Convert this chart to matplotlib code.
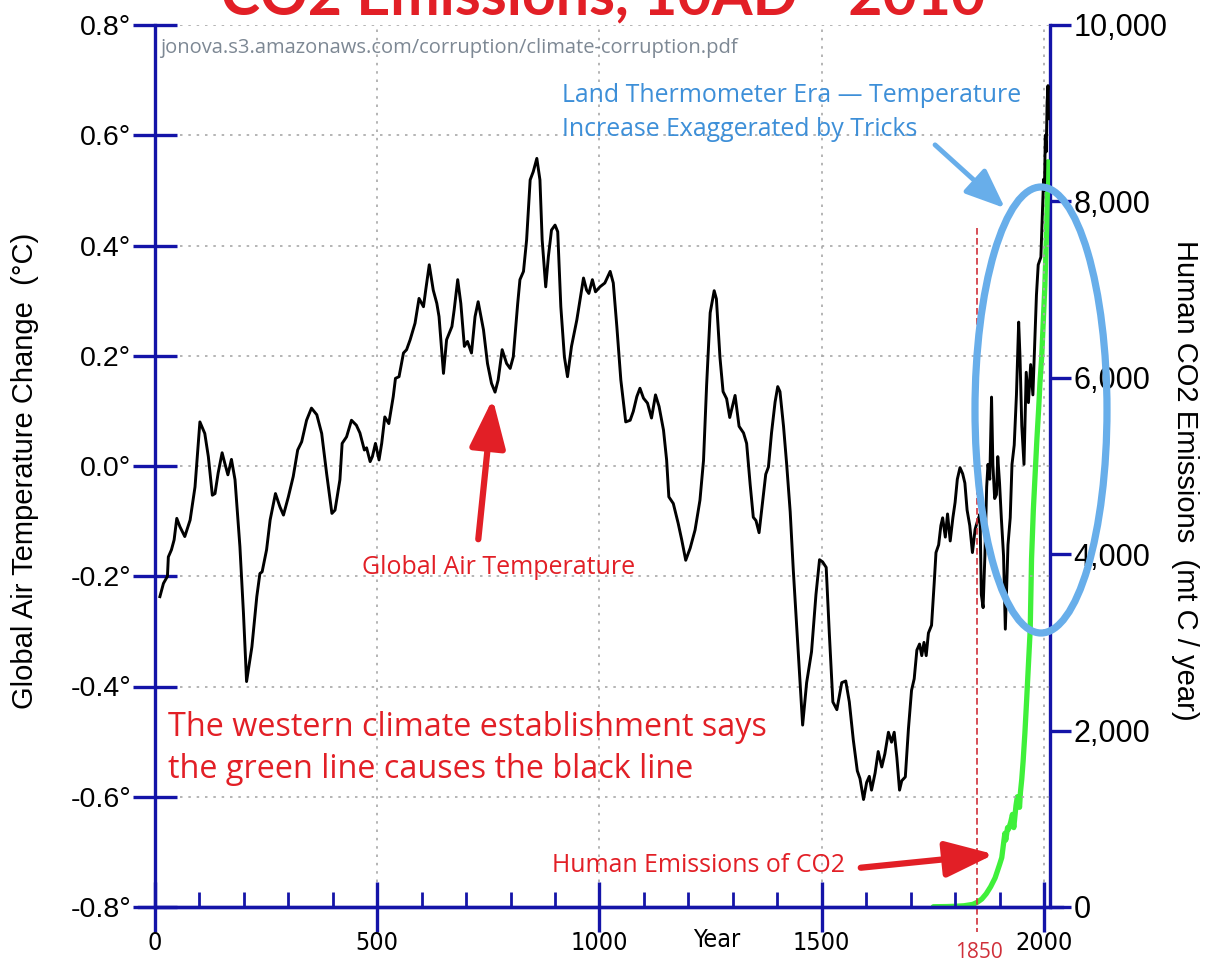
import matplotlib
matplotlib.use("Agg")
import matplotlib.pyplot as plt
from matplotlib.patches import Ellipse, FancyArrowPatch, ArrowStyle
from matplotlib.lines import Line2D
from matplotlib import font_manager as fm

W, H = 1212, 967

# ---------------- data ----------------
temp_years = [11, 19, 28, 30, 37, 43, 49, 56, 67, 79, 90, 101, 112, 120, 129, 135, 142, 151, 157, 164,
              172, 180, 191, 199, 206, 218, 229, 236, 241, 251, 259, 271, 281, 289, 300, 311, 321, 330,
              341, 352, 364, 375, 386, 398, 405, 416,
              421, 431, 442, 453, 461, 471, 476, 484, 489, 496, 504, 510, 517, 526, 536, 541, 549, 559,
              566, 574, 585, 594, 604, 609, 617, 626, 634, 639, 649, 656, 668, 673, 681, 688, 696, 703,
              712, 720, 727, 739, 748, 757, 765, 772, 781, 791, 799, 806, 816,
              821, 829, 836, 844, 851, 859, 866, 871, 879, 885, 892, 900, 906, 913, 921, 928, 937, 949,
              956, 964, 971, 976, 984, 991, 1001, 1012, 1024, 1031, 1039, 1048, 1059, 1069, 1076, 1084,
              1091, 1099, 1108, 1117, 1126, 1134, 1144, 1151, 1156, 1166, 1177, 1185, 1194, 1204, 1215,
              1226,
              1234, 1241, 1249, 1258, 1263, 1271, 1278, 1286, 1293, 1305, 1314, 1324, 1331, 1339, 1346,
              1352, 1359, 1366, 1374, 1380, 1387, 1395, 1401, 1406, 1414, 1421, 1429, 1436, 1444,
              1457, 1466, 1477, 1487, 1495, 1502, 1510, 1517, 1525, 1534, 1545, 1554, 1562, 1571, 1580,
              1586, 1594, 1601, 1607, 1612, 1620, 1627, 1635, 1642, 1650, 1657, 1663, 1669, 1675, 1680,
              1688, 1695, 1702, 1708, 1714, 1720, 1725, 1730, 1735, 1740, 1747, 1753, 1757, 1763, 1768,
              1772, 1778, 1783, 1789, 1795, 1800, 1805, 1811, 1817, 1822, 1827, 1833, 1839, 1845, 1850,
              1856, 1859, 1863, 1867, 1871, 1874, 1878, 1882, 1885, 1889, 1893, 1896, 1900, 1904, 1909,
              1913, 1919, 1924, 1928, 1933, 1938, 1943, 1946, 1950, 1955, 1960, 1965, 1970, 1975, 1980,
              1983, 1987, 1993, 1996, 1999, 2001, 2003, 2005, 2007, 2009, 2010]
temp_values = [-0.237, -0.213, -0.200, -0.165, -0.152, -0.134, -0.095, -0.110, -0.128, -0.098, -0.038,
               0.080, 0.059, 0.017, -0.053, -0.050, -0.013, 0.024, 0.005, -0.016, 0.012, -0.025, -0.146,
               -0.267, -0.391, -0.328, -0.237, -0.195, -0.192, -0.152, -0.098, -0.050, -0.074, -0.089,
               -0.056, -0.019, 0.029, 0.044, 0.083, 0.105, 0.093, 0.059, -0.013, -0.086, -0.080, -0.025,
               0.041, 0.053, 0.083, 0.074, 0.060, 0.029, 0.033, 0.008, 0.017, 0.041, 0.011, 0.041, 0.089,
               0.077, 0.126, 0.159, 0.162, 0.205, 0.211, 0.229, 0.259, 0.304, 0.289, 0.319, 0.365, 0.319,
               0.295, 0.271, 0.168, 0.229, 0.253, 0.283, 0.338, 0.295, 0.217, 0.226, 0.205, 0.271, 0.298,
               0.247, 0.186, 0.150, 0.134, 0.156, 0.211, 0.186, 0.177, 0.198, 0.295,
               0.338, 0.353, 0.410, 0.519, 0.534, 0.558, 0.519, 0.410, 0.325, 0.380, 0.428, 0.437, 0.425,
               0.289, 0.198, 0.162, 0.217, 0.265, 0.301, 0.341, 0.319, 0.313, 0.338, 0.316, 0.325, 0.332,
               0.353, 0.332, 0.253, 0.156, 0.080, 0.083, 0.099, 0.126, 0.141, 0.123, 0.114, 0.087, 0.129,
               0.108, 0.065, 0.011, -0.056, -0.068, -0.104, -0.134, -0.171, -0.149, -0.116, -0.062,
               0.010, 0.147, 0.278, 0.318, 0.303, 0.197, 0.135, 0.122, 0.088, 0.128, 0.072, 0.060, 0.041,
               -0.034, -0.093, -0.099, -0.121, -0.071, -0.015, -0.002, 0.060, 0.116, 0.144, 0.135, 0.072,
               0.004, -0.083, -0.189, -0.295,
               -0.470, -0.393, -0.337, -0.233, -0.170, -0.174, -0.184, -0.303, -0.428, -0.442, -0.393,
               -0.390, -0.428, -0.497, -0.553, -0.567, -0.605, -0.574, -0.563, -0.588, -0.557, -0.518,
               -0.546, -0.522, -0.483, -0.501, -0.483, -0.529, -0.588, -0.571, -0.564, -0.477, -0.407,
               -0.386, -0.334, -0.323, -0.344, -0.320, -0.344, -0.303, -0.289, -0.212, -0.157, -0.143,
               -0.108, -0.094, -0.129, -0.087, -0.136, -0.094, -0.066, -0.024, -0.003, -0.014, -0.031,
               -0.080, -0.108, -0.157, -0.115, -0.101, -0.087, -0.233, -0.257, -0.163, -0.038, 0.003,
               -0.024, 0.125, 0.003, -0.059, -0.052, 0.017, -0.031, -0.094, -0.163, -0.296, -0.143,
               -0.094, 0.003, 0.038, 0.129, 0.261, 0.198, 0.073, 0.003, 0.170, 0.115, 0.184, 0.129,
               0.240, 0.310, 0.365, 0.379, 0.450, 0.520, 0.500, 0.600, 0.570, 0.660, 0.690, 0.630]

co2_years = [1751, 1780, 1800, 1820, 1840, 1850, 1860, 1870, 1880, 1890, 1900, 1905, 1910, 1912, 1914,
             1918, 1920, 1925, 1929, 1932, 1937, 1940, 1945, 1947, 1950, 1953, 1957, 1961, 1965, 1969,
             1972, 1976, 1980, 1984, 1988, 1991, 1995, 1998, 2002, 2006, 2009]
co2_values = [3, 5, 8, 14, 30, 54, 90, 150, 230, 330, 480, 560, 760, 835, 760, 900, 880, 960, 1050,
              900, 1150, 1250, 1130, 1300, 1450, 1650, 1970, 2350, 2750, 3150, 3950, 4500, 4900, 5300,
              5650, 5950, 6250, 6600, 7050, 7700, 8450]

x_ticks = [0, 500, 1000, 1500, 2000]
x_tick_labels = ["0", "500", "1000", "1500", "2000"]
y_ticks = [-0.8, -0.6, -0.4, -0.2, 0.0, 0.2, 0.4, 0.6, 0.8]
y_tick_labels = ["-0.8°", "-0.6°", "-0.4°", "-0.2°", "0.0°", "0.2°", "0.4°", "0.6°", "0.8°"]
co2_ticks = [0, 2000, 4000, 6000, 8000, 10000]
co2_tick_labels = ["0", "2,000", "4,000", "6,000", "8,000", "10,000"]

# ---------------- style ----------------
AXBLUE = "#1414a8"
RED = "#e21f26"
DRED = "#d0303a"
LBLUE = "#3d8fd8"
EBLUE = "#68aeea"
GREEN = "#3ff03a"
GRID = "#a8a8a8"
ARIAL = ["Liberation Sans", "DejaVu Sans"]
SEGOE = ["Open Sans", "DejaVu Sans"]

# pick a narrow face for the x-axis if one is installed
NARROW_FP = None
for fam, stretch in [("Liberation Sans Narrow", "normal"), ("DejaVu Sans", "condensed")]:
    try:
        fpth = fm.findfont(fm.FontProperties(family=fam, stretch=stretch), fallback_to_default=False)
        if "Narrow" in fpth or "Condensed" in fpth:
            NARROW_FP = (fam, stretch)
            break
    except Exception:
        pass
if NARROW_FP is None:
    NARROW_KW = dict(family=ARIAL, fontsize=15.5)
else:
    NARROW_KW = dict(family=[NARROW_FP[0]], stretch=NARROW_FP[1], fontsize=18)


def fp(px, py):
    return (px / W, 1 - py / H)


fig = plt.figure(figsize=(W / 100, H / 100), dpi=100)
ax = fig.add_axes([155 / W, 1 - 907 / H, 895 / W, 882 / H])
ax2 = ax.twinx()
ax.set_zorder(ax2.get_zorder() + 1)
ax.patch.set_visible(False)

ax.set_xlim(0, 2013.5)
ax.set_ylim(-0.8, 0.8)
ax2.set_ylim(0, 10000)

# grid
for yv in y_ticks[1:]:
    ax.axhline(yv, color=GRID, lw=1.2, dashes=(1.5, 3.5), zorder=0)
for xv in x_ticks[1:]:
    ax.axvline(xv, color=GRID, lw=1.2, dashes=(1.5, 3.5), zorder=0)

# data lines
ax2.plot(co2_years, co2_values, color=GREEN, lw=3.8, solid_capstyle="round", zorder=3)
ax.plot(temp_years, temp_values, color="black", lw=2.1, zorder=4)

# spines
for s in ["top", "right"]:
    ax.spines[s].set_visible(False)
for s in ["top", "left", "bottom"]:
    ax2.spines[s].set_visible(False)
for sp in [ax.spines["left"], ax.spines["bottom"], ax2.spines["right"]]:
    sp.set_color(AXBLUE)
    sp.set_linewidth(2.4)
fig.add_artist(Line2D([139 / W, 1062 / W], [1 - 907 / H, 1 - 907 / H], color=AXBLUE, lw=2.4,
                      transform=fig.transFigure))

# ticks
ax.set_yticks(y_ticks)
ax.set_yticklabels(y_tick_labels, family=ARIAL, fontsize=20.5)
ax.tick_params(axis="y", direction="inout", length=32, width=2.4, color=AXBLUE, pad=1)
ax.set_xticks(x_ticks)
ax.set_xticklabels(x_tick_labels, **NARROW_KW)
ax.set_xticks(range(100, 2001, 100), minor=True)
ax.tick_params(axis="x", which="major", direction="inout", length=36, width=2.4, color=AXBLUE, pad=-1)
ax.tick_params(axis="x", which="minor", direction="in", length=11, width=2.0, color=AXBLUE)
ax2.set_yticks(co2_ticks)
ax2.set_yticklabels(co2_tick_labels, family=ARIAL, fontsize=22)
ax2.tick_params(axis="y", direction="out", length=15, width=2.4, color=AXBLUE, pad=2)

# axis labels
fig.text(25 / W, 1 - 471 / H, "Global Air Temperature Change  (°C)", rotation=90, ha="center",
         va="center", family=ARIAL, fontsize=21)
fig.text(1185 / W, 1 - 480 / H, "Human CO2 Emissions  (mt C / year)", rotation=-90, ha="center",
         va="center", family=ARIAL, fontsize=21)
fig.text(*fp(717, 940), "Year", ha="center", va="center", **NARROW_KW)

# title (cropped at the top, as in the reference)
fig.text(*fp(603, 14), "CO2 Emissions, 10AD - 2010", ha="center", va="baseline", color=RED,
         family=["Lato", "DejaVu Sans"], fontweight="bold", fontsize=42.5)

# watermark
fig.text(*fp(160, 48), "jonova.s3.amazonaws.com/corruption/climate-corruption.pdf", ha="left",
         va="center", color="#7d8894", family=SEGOE, fontsize=14.5)

# blue annotation
fig.text(*fp(562, 95), "Land Thermometer Era \u2014 Temperature", ha="left", va="center",
         color=LBLUE, family=SEGOE, fontsize=17.9)
fig.text(*fp(562, 130), "Increase Exaggerated by Tricks", ha="left", va="center",
         color=LBLUE, family=SEGOE, fontsize=17.9)
fig.add_artist(Ellipse(fp(1041, 410), 132 / W, 446 / H, transform=fig.transFigure, fill=False,
                       edgecolor=EBLUE, lw=5.2, zorder=6))
fig.add_artist(FancyArrowPatch(
    fp(933, 143), fp(1007, 210), transform=fig.transFigure, color=EBLUE, lw=3.5,
    arrowstyle=ArrowStyle("-|>", head_length=1.1, head_width=0.45), mutation_scale=22, zorder=6))

# red annotations
fig.text(*fp(499, 568), "Global Air Temperature", ha="center", va="center", color=RED,
         family=SEGOE, fontsize=18)
fig.add_artist(FancyArrowPatch(
    fp(478, 542), fp(493, 396), transform=fig.transFigure, color=RED, lw=4.5,
    arrowstyle=ArrowStyle("-|>", head_length=1.35, head_width=0.5), mutation_scale=22, zorder=6))
fig.text(*fp(168, 727), "The western climate establishment says", ha="left", va="center",
         color=RED, family=SEGOE, fontsize=23.3)
fig.text(*fp(168, 770), "the green line causes the black line", ha="left", va="center",
         color=RED, family=SEGOE, fontsize=23.3)
fig.text(*fp(699, 865), "Human Emissions of CO2", ha="center", va="center", color=RED,
         family=SEGOE, fontsize=17.9)
fig.add_artist(FancyArrowPatch(
    fp(858, 868), fp(997, 854), transform=fig.transFigure, color=RED, lw=4.5,
    arrowstyle=ArrowStyle("-|>", head_length=1.35, head_width=0.5), mutation_scale=22, zorder=6))

# 1850 marker
ax.plot([1850, 1850], [0.432, -0.845], color=DRED, lw=1.2, dashes=(4, 2), clip_on=False, zorder=5)
fig.text(*fp(979, 953), "1850", ha="center", va="center", color=DRED, family=SEGOE, fontsize=15)

fig.savefig("out.png", dpi=100)
